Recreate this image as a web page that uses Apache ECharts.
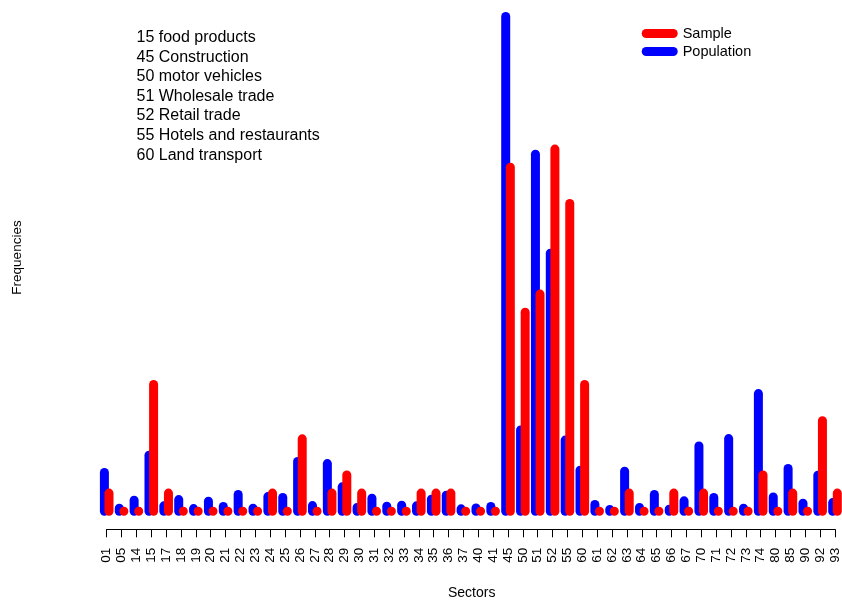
<!DOCTYPE html>
<html>
<head>
<meta charset="utf-8">
<title>Sectors: sample vs population</title>
<script src="https://cdn.jsdelivr.net/npm/echarts@6/dist/echarts.min.js"></script>
<style>
  html, body { margin: 0; padding: 0; background: #ffffff; }
  #chart { width: 842px; height: 600px; }
</style>
</head>
<body>
<div id="chart"></div>
<script>
// Sector codes along the x axis
const sectors = ['01','05','14','15','17','18','19','20','21','22','23','24','25','26','27','28','29','30',
  '31','32','33','34','35','36','37','40','41','45','50','51','52','55','60','61','62','63','64','65','66',
  '67','70','71','72','73','74','80','85','90','92','93'];

// Relative frequencies (%) in the sample
const sampleFreq = [0.84,0,0,5.88,0.84,0,0,0,0,0,0,0.84,0,3.36,0,0.84,1.68,0.84,
  0,0,0,0.84,0.84,0.84,0,0,0,15.97,9.24,10.08,16.81,14.29,5.88,0,0,0.84,0,0,0.84,
  0,0.84,0,0,0,1.68,0,0.84,0,4.20,0.84];

// Relative frequencies (%) in the population
const populationFreq = [1.80,0.14,0.51,2.60,0.25,0.54,0.12,0.46,0.22,0.78,0.14,0.68,0.64,2.31,0.26,2.21,1.13,0.17,
  0.60,0.23,0.28,0.25,0.56,0.74,0.11,0.15,0.22,22.97,3.77,16.57,11.98,3.30,1.90,0.31,0.08,1.86,0.17,0.78,0.09,
  0.48,3.03,0.64,3.37,0.14,5.46,0.66,1.98,0.37,1.67,0.40];

// Key to the main sector codes
const sectorNotes = ['15 food products','45 Construction','50 motor vehicles','51 Wholesale trade',
  '52 Retail trade','55 Hotels and restaurants','60 Land transport'];

const FONT = "'Liberation Sans', Arial, Helvetica, sans-serif";
const BAR_W = 9;

// Thick spikes with rounded ends, shifted left/right of the category tick
function spikeRenderer(shift) {
  return function (params, api) {
    const idx = api.value(0);
    const top = api.coord([idx, api.value(1)]);
    const base = api.coord([idx, 0]);
    const r = BAR_W / 2;
    const x = top[0] + shift;
    return {
      type: 'rect',
      shape: { x: x - r, y: top[1] - r, width: BAR_W, height: base[1] - top[1] + BAR_W, r: r },
      style: { fill: api.visual('color') }
    };
  };
}

const chart = echarts.init(document.getElementById('chart'), null, { renderer: 'canvas' });

const noteElements = sectorNotes.map((t, i) => ({
  type: 'text',
  x: 136.5,
  y: 37.5 + i * 19.6,
  style: { text: t, fill: '#000', font: '16px ' + FONT, align: 'left', verticalAlign: 'middle',
           textAlign: 'left', textVerticalAlign: 'middle' }
}));

chart.setOption({
  animation: false,
  backgroundColor: '#ffffff',
  grid: { left: 106.7, right: 5.2, top: 5, bottom: 70.7 },
  legend: {
    data: ['Sample', 'Population'],
    orient: 'vertical',
    left: 636.7,
    top: 21,
    itemWidth: 36,
    itemHeight: 9,
    itemGap: 3,
    selectedMode: false,
    icon: 'path://M4.5,0 L31.5,0 A4.5,4.5 0 0 1 31.5,9 L4.5,9 A4.5,4.5 0 0 1 4.5,0 Z',
    textStyle: { color: '#000', fontSize: 14.5, fontFamily: FONT }
  },
  xAxis: {
    type: 'category',
    data: sectors,
    boundaryGap: false,
    axisLine: { show: true, onZero: false, lineStyle: { color: '#000', width: 1 } },
    axisTick: { show: true, length: 8, interval: 0, lineStyle: { color: '#000', width: 1 } },
    axisLabel: { interval: 0, rotate: 90, margin: 18.5, color: '#000', fontSize: 13.5, fontFamily: FONT },
    splitLine: { show: false }
  },
  yAxis: {
    type: 'value',
    min: -0.84,
    max: 23.5,
    show: false
  },
  graphic: [
    {
      type: 'text', x: 17, y: 257.5, rotation: Math.PI / 2,
      style: { text: 'Frequencies', fill: '#000', font: '13.5px ' + FONT, align: 'center', verticalAlign: 'middle',
               textAlign: 'center', textVerticalAlign: 'middle' }
    },
    {
      type: 'text', x: 471.7, y: 593,
      style: { text: 'Sectors', fill: '#000', font: '14px ' + FONT, align: 'center', verticalAlign: 'middle',
               textAlign: 'center', textVerticalAlign: 'middle' }
    }
  ].concat(noteElements),
  series: [
    {
      name: 'Population',
      type: 'custom',
      clip: false,
      itemStyle: { color: '#0000ff' },
      encode: { x: 0, y: 1 },
      renderItem: spikeRenderer(-2.3),
      data: populationFreq.map((v, i) => [i, v])
    },
    {
      name: 'Sample',
      type: 'custom',
      clip: false,
      itemStyle: { color: '#ff0000' },
      encode: { x: 0, y: 1 },
      renderItem: spikeRenderer(2.3),
      data: sampleFreq.map((v, i) => [i, v])
    }
  ]
});
</script>
</body>
</html>
